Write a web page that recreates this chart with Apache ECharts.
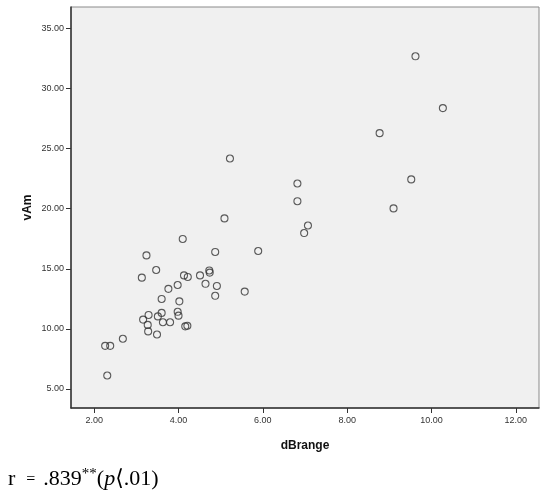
<!DOCTYPE html>
<html>
<head>
<meta charset="utf-8">
<script src="https://cdn.jsdelivr.net/npm/echarts@6/dist/echarts.min.js"></script>
<style>
html,body{margin:0;padding:0;background:#fff;}
#chart{width:549px;height:503px;}
</style>
</head>
<body>
<div id="chart"></div>
<script>
// dBrange values
const dBrange = [5.09,4.10,4.87,3.24,3.47,3.13,4.13,4.22,4.51,4.73,4.74,4.64,4.91,4.87,3.98,3.76,3.60,4.02,3.60,3.98,4.00,3.29,3.51,3.16,3.63,3.80,3.27,3.28,3.49,4.16,4.21,2.68,2.26,2.38,2.31,5.22,6.82,6.82,7.07,6.98,5.89,5.57,9.62,10.27,8.77,9.52,9.10];
// vAm values
const vAm = [19.19,17.48,16.40,16.11,14.90,14.26,14.45,14.32,14.45,14.86,14.68,13.75,13.57,12.75,13.65,13.33,12.49,12.29,11.33,11.42,11.10,11.16,11.04,10.77,10.55,10.55,10.33,9.79,9.53,10.21,10.26,9.18,8.59,8.59,6.12,24.17,22.09,20.62,18.60,17.97,16.48,13.10,32.67,28.36,26.28,22.43,20.02];
const xTicks = [2, 4, 6, 8, 10, 12];
const yTicks = [5, 10, 15, 20, 25, 30, 35];
const xName = 'dBrange';
const yName = 'vAm';

const points = dBrange.map((x, i) => [x, vAm[i]]);

const chart = echarts.init(document.getElementById('chart'), null, {renderer: 'canvas'});
const labelFont = {fontFamily: 'Liberation Sans, Arial, sans-serif', fontSize: 9, color: '#333'};
const serif = 'Liberation Serif, Times New Roman, serif';
chart.setOption({
  animation: false,
  backgroundColor: '#ffffff',
  grid: {
    left: 71, right: 10, top: 7, bottom: 95,
    show: true, backgroundColor: '#F0F0F0', borderColor: '#8a8a8a', borderWidth: 1
  },
  xAxis: {
    type: 'value', min: 1.45, max: 12.55,
    name: xName, nameLocation: 'middle', nameGap: 32,
    nameTextStyle: {fontFamily: 'Liberation Sans, Arial, sans-serif', fontSize: 12, fontWeight: 'bold', color: '#111'},
    axisLine: {show: true, lineStyle: {color: '#333', width: 1.5}},
    axisTick: {show: true, length: 5, customValues: xTicks, lineStyle: {color: '#333'}},
    axisLabel: Object.assign({customValues: xTicks, margin: 8, formatter: v => v.toFixed(2)}, labelFont),
    splitLine: {show: false}
  },
  yAxis: {
    type: 'value', min: 3.42, max: 36.77,
    name: yName, nameLocation: 'middle', nameGap: 37, nameRotate: 90, nameMoveOverlap: false,
    nameTextStyle: {fontFamily: 'Liberation Sans, Arial, sans-serif', fontSize: 12, fontWeight: 'bold', color: '#111'},
    axisLine: {show: true, lineStyle: {color: '#333', width: 1.5}},
    axisTick: {show: true, length: 5, customValues: yTicks, lineStyle: {color: '#333'}},
    axisLabel: Object.assign({customValues: yTicks, margin: 7, formatter: v => v.toFixed(2)}, labelFont),
    splitLine: {show: false}
  },
  series: [{
    type: 'scatter',
    data: points,
    symbol: 'circle',
    symbolSize: 7,
    itemStyle: {color: 'rgba(0,0,0,0)', borderColor: '#333', borderWidth: 1.1}
  }],
  graphic: [{
    type: 'text',
    left: 8,
    top: 467,
    style: {
      text: '{n|r  }{e|=}{e|  }{n|.839}{s|**}{n|(}{i|p}{b|⟨}{n|.01)}',
      rich: {
        n: {fontFamily: serif, fontSize: 22, fill: '#000'},
        e: {fontFamily: serif, fontSize: 16, fill: '#000'},
        i: {fontFamily: serif, fontSize: 22, fontStyle: 'italic', fill: '#000'},
        b: {fontFamily: 'DejaVu Sans, sans-serif', fontSize: 22, fill: '#000'},
        s: {fontFamily: serif, fontSize: 15, fill: '#000', verticalAlign: 'top', padding: [0,0,10,0]}
      }
    }
  }]
});
</script>
</body>
</html>
